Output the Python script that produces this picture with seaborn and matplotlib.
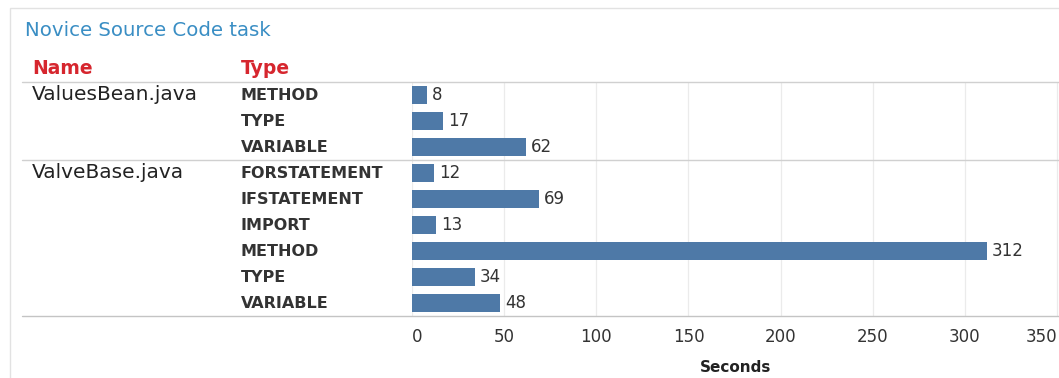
import matplotlib
matplotlib.use("Agg")
import matplotlib.pyplot as plt
import matplotlib.transforms as mtrans
import seaborn as sns
import pandas as pd
from matplotlib.patches import Rectangle

names = ["ValuesBean.java", "ValuesBean.java", "ValuesBean.java",
         "ValveBase.java", "ValveBase.java", "ValveBase.java",
         "ValveBase.java", "ValveBase.java", "ValveBase.java"]
types = ["METHOD", "TYPE", "VARIABLE",
         "FORSTATEMENT", "IFSTATEMENT", "IMPORT", "METHOD", "TYPE", "VARIABLE"]
seconds = [8, 17, 62, 12, 69, 13, 312, 34, 48]
xticks = [0, 50, 100, 150, 200, 250, 300, 350]

df = pd.DataFrame({"Name": names, "Type": types, "Seconds": seconds})
df["row"] = [f"{n}|{t}" for n, t in zip(names, types)]

sns.set_theme(style="white")
plt.rcParams["font.family"] = ["DejaVu Sans"]

W, H = 1059, 378
fig = plt.figure(figsize=(W / 100, H / 100), dpi=100)
ax_left, ax_right, ax_top, ax_bot = 412, 1059, 82, 316
ax = fig.add_axes([ax_left / W, 1 - ax_bot / H, (ax_right - ax_left) / W, (ax_bot - ax_top) / H])

sns.barplot(data=df, y="row", x="Seconds", orient="h", color="#4e79a7",
            saturation=1, width=0.7, linewidth=0, ax=ax, order=list(df["row"]))

ax.set_xlim(0, 351)
ax.set_ylim(len(df) - 0.5, -0.5)
ax.set_xticks(xticks)
ax.set_xticklabels([str(t) for t in xticks], fontsize=12, color="#333333")
labels = ax.get_xticklabels()
labels[0].set_ha("left")
labels[-1].set_ha("right")
ax.tick_params(axis="x", length=0, pad=9)
ax.set_yticks([])
ax.set_ylabel("")
ax.set_xlabel("Seconds", fontsize=11, fontweight="bold", color="#222222", labelpad=10)
for s in ax.spines.values():
    s.set_visible(False)
for t in xticks:
    ax.axvline(t, color="#ebebeb", lw=0.9, zorder=0)

# value labels
for i, v in enumerate(seconds):
    ax.text(v + 2.7, i, str(v), va="center", ha="left", fontsize=12, color="#333333")

axw = ax_right - ax_left
line_x0 = (22 - ax_left) / axw
for y, c in [(-0.5, "#d0d0d0"), (2.5, "#d0d0d0"), (8.5, "#c4c4c4")]:
    ax.plot([line_x0, 1.0], [y, y], transform=ax.get_yaxis_transform(),
            color=c, lw=1, clip_on=False)

# row labels
trans = mtrans.blended_transform_factory(fig.transFigure, ax.transData)
prev = None
for i, (n, t) in enumerate(zip(names, types)):
    if n != prev:
        ax.text(32 / W, i, n, transform=trans, fontsize=14.5, color="#222222",
                va="center", ha="left")
        prev = n
    ax.text(241 / W, i, t, transform=trans, fontsize=11.5, fontweight="bold",
            color="#333333", va="center", ha="left")

# headers
fig.text(32 / W, 1 - 69 / H, "Name", fontsize=13.5, fontweight="bold", color="#d6262e",
         va="center", ha="left")
fig.text(241 / W, 1 - 69 / H, "Type", fontsize=13.5, fontweight="bold", color="#d6262e",
         va="center", ha="left")
fig.text(25 / W, 1 - 30 / H, "Novice Source Code task", fontsize=14.2, color="#3a8ec4",
         va="center", ha="left")

# panel border
fig.patches.append(Rectangle((10 / W, -0.1), 1.2, 1 - 8 / H + 0.1, transform=fig.transFigure,
                             fill=False, edgecolor="#e2e2e2", lw=1))

fig.savefig("out.png", dpi=100)
